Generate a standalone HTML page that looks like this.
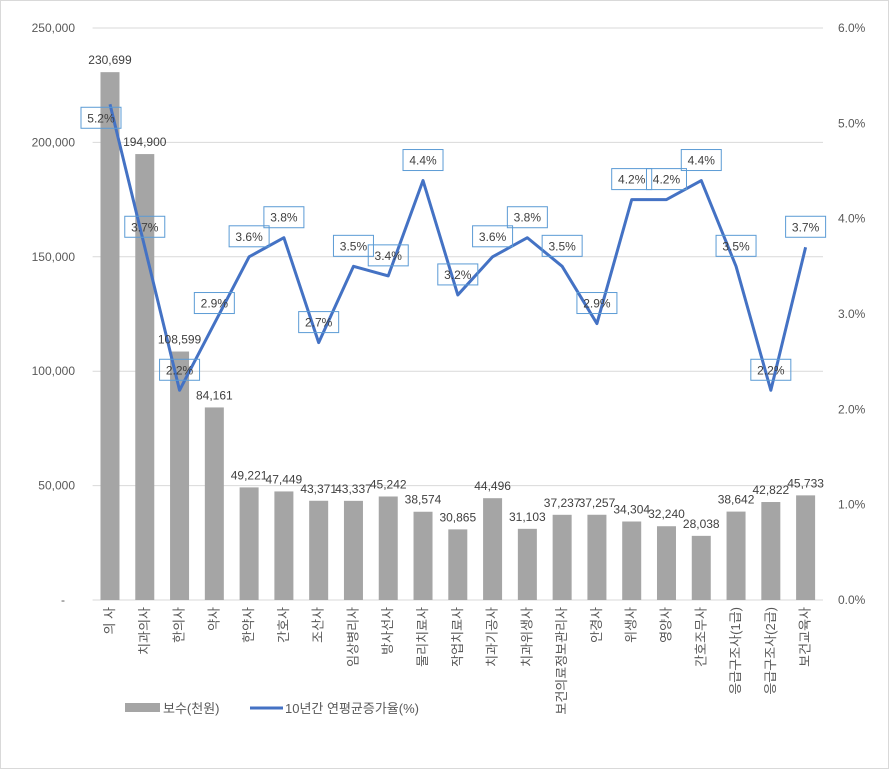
<!DOCTYPE html>
<html><head><meta charset="utf-8"><style>
body{margin:0;background:#fff;}
svg{display:block;font-family:"Liberation Sans","Noto Sans CJK KR",sans-serif;}
</style></head><body>
<svg id="chart" width="889" height="769" viewBox="0 0 889 769">
<rect x="0.5" y="0.5" width="888" height="768" fill="#fff" stroke="#d9d9d9"/>
<g id="grid"></g><g id="bars"></g><g id="line"></g><g id="labels"></g><g id="axes"></g>
<g>
<rect x="125" y="703" width="35" height="9" fill="#a5a5a5"/>
<text x="163" y="713" font-size="13" fill="#595959">보수(천원)</text>
<line x1="250" y1="708" x2="283" y2="708" stroke="#4472c4" stroke-width="3"/>
<text x="285" y="713" font-size="13" fill="#595959">10년간 연평균증가율(%)</text>
</g>
</svg>
<script>
const categories=["의 사","치과의사","한의사","약사","한약사","간호사","조산사","임상병리사","방사선사","물리치료사","작업치료사","치과기공사","치과위생사","보건의료정보관리사","안경사","위생사","영양사","간호조무사","응급구조사(1급)","응급구조사(2급)","보건교육사"];
const pay=[230699,194900,108599,84161,49221,47449,43371,43337,45242,38574,30865,44496,31103,37237,37257,34304,32240,28038,38642,42822,45733];
const rate=[5.2,3.7,2.2,2.9,3.6,3.8,2.7,3.5,3.4,4.4,3.2,3.6,3.8,3.5,2.9,4.2,4.2,4.4,3.5,2.2,3.7];
const leftTicks=[0,50000,100000,150000,200000,250000];
const rightTicks=[0,1,2,3,4,5,6];
const NS="http://www.w3.org/2000/svg";
const L=92.6,R=823,T=28,B=600;
const step=(R-L)/categories.length;
const xc=i=>L+step*(i+0.5);
const yL=v=>B-(v/250000)*(B-T);
const yR=v=>B-(v/6)*(B-T);
function mk(tag,attrs,parent){const e=document.createElementNS(NS,tag);for(const k in attrs)e.setAttribute(k,attrs[k]);document.getElementById(parent).appendChild(e);return e;}
leftTicks.forEach(v=>{
 const g=mk("line",{x1:L,x2:R,y1:yL(v),y2:yL(v),stroke:"#d9d9d9","stroke-width":1},"grid");
 
 
 const t=mk("text",{x:v===0?65:75,y:yL(v)+4,"text-anchor":"end","font-size":12,fill:"#595959"},"axes");
 t.textContent=v===0?"-":v.toLocaleString("en-US");
 
 
});
rightTicks.forEach(v=>{
 const t=mk("text",{x:838,y:yR(v)+4,"font-size":12,fill:"#595959"},"axes");
 t.textContent=v.toFixed(1)+"%";
 
 
});
pay.forEach((v,i)=>{
 const r=mk("rect",{x:xc(i)-9.5,y:yL(v),width:19,height:B-yL(v),fill:"#a5a5a5"},"bars");
 
 
 const t=mk("text",{x:xc(i),y:yL(v)-8,"text-anchor":"middle","font-size":12,fill:"#404040"},"labels");
 t.textContent=v.toLocaleString("en-US");
 
 
 const c=mk("text",{transform:`translate(${xc(i)+4},607) rotate(-90)`,"text-anchor":"end","font-size":13,fill:"#595959"},"axes");
 c.textContent=categories[i];
 
 
});
const pl=mk("polyline",{points:rate.map((v,i)=>xc(i)+","+yR(v)).join(" "),fill:"none",stroke:"#4472c4","stroke-width":3,"stroke-linejoin":"round"},"line");


rate.forEach((v,i)=>{
 const cx=i===0?xc(i)-9:xc(i), cy=i===0?yR(v)+13:yR(v)-21;
 const b=mk("rect",{x:cx-20,y:cy-10,width:40,height:21,fill:"none",stroke:"#5b9bd5","stroke-width":1},"labels");
 
 
 const t=mk("text",{x:cx,y:cy+5,"text-anchor":"middle","font-size":12,fill:"#404040"},"labels");
 t.textContent=v.toFixed(1)+"%";
 
 
});
</script>
</body></html>
